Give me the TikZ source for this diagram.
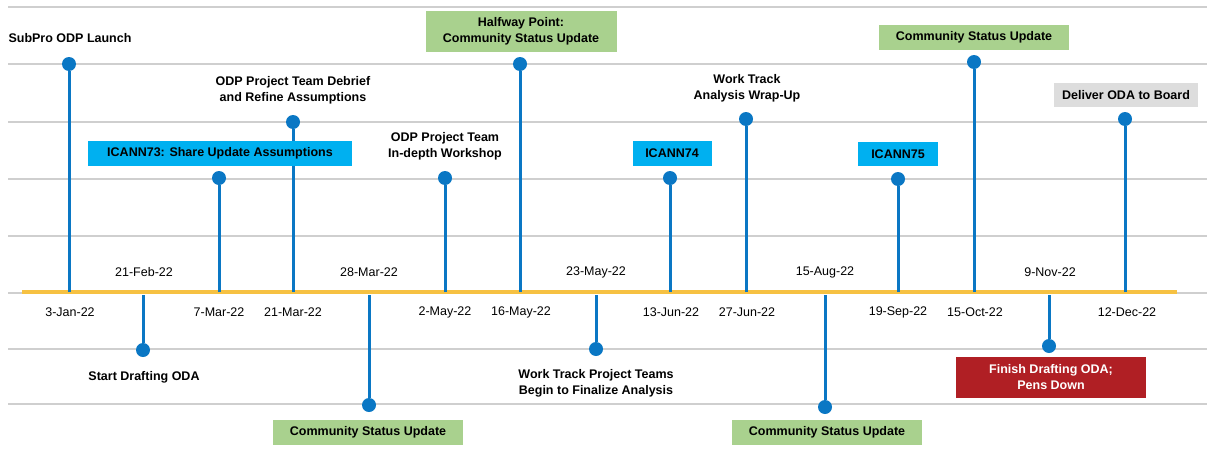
\documentclass[tikz,border=0pt]{standalone}
\usepackage{fontspec}
\setmainfont{Liberation Sans}
\usetikzlibrary{positioning}
\definecolor{stemblue}{HTML}{0A77C4}
\definecolor{icanncyan}{HTML}{00B0F0}
\definecolor{csugreen}{HTML}{A9D18E}
\definecolor{pensred}{HTML}{B01F24}
\definecolor{boardgray}{HTML}{DDDDDD}
\definecolor{axisyellow}{HTML}{F6C142}
\definecolor{gridgray}{HTML}{CFCFCF}
\tikzstyle{gridline}=[draw=gridgray,line width=2pt]
\tikzstyle{timeline}=[draw=axisyellow,line width=4pt]
\tikzstyle{stem}=[draw=stemblue,line width=3pt]
\tikzstyle{dot}=[circle,fill=stemblue,inner sep=0pt,minimum size=14pt]
\tikzstyle{milestone}=[align=center,font=\bfseries\fontsize{12.5}{16}\selectfont,inner sep=2pt]
\tikzstyle{datelabel}=[font=\fontsize{12.5}{15}\selectfont]
\tikzstyle{icann}=[milestone,fill=icanncyan,minimum height=25pt]
\tikzstyle{status}=[milestone,fill=csugreen,minimum height=25pt]
\tikzset{every edge/.style={stem}}

\begin{document}
\begin{tikzpicture}[x=1pt,y=-1pt]

    \useasboundingbox (0,0) rectangle (1207,458);

    \draw[gridline] (8,7) -- (1207,7);
    \draw[gridline] (8,64) -- (1207,64);
    \draw[gridline] (8,122) -- (1207,122);
    \draw[gridline] (8,179) -- (1207,179);
    \draw[gridline] (8,236) -- (1207,236);
    \draw[gridline] (8,293) -- (1207,293);
    \draw[gridline] (8,349) -- (1207,349);
    \draw[gridline] (8,404) -- (1207,404);

    \coordinate (axisstart) at (22,292);
    \coordinate (axisend) at (1177,292);
    \draw[timeline] (axisstart) -- (axisend);

    % above the axis
    \coordinate (jan3) at (69,292);
    \node[dot] (jan3dot) at (69,64) {};
    \node[milestone] (launch) at (70,38) {SubPro ODP Launch};
    \node[datelabel] (jan3date) at (70,312) {3-Jan-22};

    \coordinate (mar7) at (219,292);
    \node[dot] (mar7dot) at (219,178) {};
    \node[datelabel] (mar7date) at (219,312) {7-Mar-22};

    \coordinate (mar21) at (293,292);
    \node[dot] (mar21dot) at (293,122) {};
    \node[milestone] (debrief) at (293,90) {ODP Project Team Debrief\\ and Refine Assumptions};
    \node[datelabel] (mar21date) at (293,312) {21-Mar-22};

    \coordinate (may2) at (445,292);
    \node[dot] (may2dot) at (445,178) {};
    \node[milestone] (workshop) at (445,146) {ODP Project Team\\ In-depth Workshop};
    \node[datelabel] (may2date) at (445,312) {2-May-22};

    \coordinate (may16) at (520,292);
    \node[dot] (may16dot) at (520,64) {};
    \node[status,minimum width=191pt,minimum height=41pt] (halfway) at (521,31) {Halfway Point:\\ Community Status Update};
    \node[datelabel] (may16date) at (521,312) {16-May-22};

    \coordinate (jun13) at (670,292);
    \node[dot] (jun13dot) at (670,178) {};
    \node[icann,minimum width=79pt] (icann74) at (672,153) {ICANN74};
    \node[datelabel] (jun13date) at (671,312) {13-Jun-22};

    \coordinate (jun27) at (746,292);
    \node[dot] (jun27dot) at (746,119) {};
    \node[milestone] (wrapup) at (747,88) {Work Track\\ Analysis Wrap-Up};
    \node[datelabel] (jun27date) at (747,312) {27-Jun-22};

    \coordinate (sep19) at (898,292);
    \node[dot] (sep19dot) at (898,179) {};
    \node[icann,minimum width=80pt,minimum height=24pt] (icann75) at (898,154) {ICANN75};
    \node[datelabel] (sep19date) at (898,312) {19-Sep-22};

    \coordinate (oct15) at (974,292);
    \node[dot] (oct15dot) at (974,62) {};
    \node[status,minimum width=190pt] (octstatus) at (974,37) {Community Status Update};
    \node[datelabel] (oct15date) at (975,312) {15-Oct-22};

    \coordinate (dec12) at (1125,292);
    \node[dot] (dec12dot) at (1125,119) {};
    \node[milestone,fill=boardgray,minimum width=144pt,minimum height=24pt] (board) at (1126,95) {Deliver ODA to Board};
    \node[datelabel] (dec12date) at (1127,312) {12-Dec-22};

    % below the axis
    \coordinate (feb21) at (143,295);
    \node[dot] (feb21dot) at (143,350) {};
    \node[milestone] (drafting) at (144,377) {Start Drafting ODA};
    \node[datelabel] (feb21date) at (144,272) {21-Feb-22};

    \coordinate (mar28) at (369,295);
    \node[dot] (mar28dot) at (369,405) {};
    \node[status,minimum width=190pt] (marstatus) at (368,432) {Community Status Update};
    \node[datelabel] (mar28date) at (369,272) {28-Mar-22};

    \coordinate (may23) at (596,295);
    \node[dot] (may23dot) at (596,349) {};
    \node[milestone] (finalize) at (596,383) {Work Track Project Teams\\ Begin to Finalize Analysis};
    \node[datelabel] (may23date) at (596,272) {23-May-22};

    \coordinate (aug15) at (825,295);
    \node[dot] (aug15dot) at (825,407) {};
    \node[status,minimum width=190pt] (augstatus) at (827,432) {Community Status Update};
    \node[datelabel] (aug15date) at (825,272) {15-Aug-22};

    \coordinate (nov9) at (1049,295);
    \node[dot] (nov9dot) at (1049,346) {};
    \node[milestone,fill=pensred,text=white,minimum width=190pt,minimum height=41pt] (pensdown) at (1051,377) {Finish Drafting ODA;\\ Pens Down};
    \node[datelabel] (nov9date) at (1050,272) {9-Nov-22};

    \draw (jan3) edge (jan3dot) ;
    \draw (mar7) edge (mar7dot) ;
    \draw (mar21) edge (mar21dot) ;
    \draw (may2) edge (may2dot) ;
    \draw (may16) edge (may16dot) ;
    \draw (jun13) edge (jun13dot) ;
    \draw (jun27) edge (jun27dot) ;
    \draw (sep19) edge (sep19dot) ;
    \draw (oct15) edge (oct15dot) ;
    \draw (dec12) edge (dec12dot) ;
    \draw (feb21) edge (feb21dot) ;
    \draw (mar28) edge (mar28dot) ;
    \draw (may23) edge (may23dot) ;
    \draw (aug15) edge (aug15dot) ;
    \draw (nov9) edge (nov9dot) ;

    % drawn last so that it covers the 21-Mar stem
    \node[icann,minimum width=264pt] (icann73) at (220,153) {ICANN73: Share Update Assumptions};
  \end{tikzpicture}
\end{document}
